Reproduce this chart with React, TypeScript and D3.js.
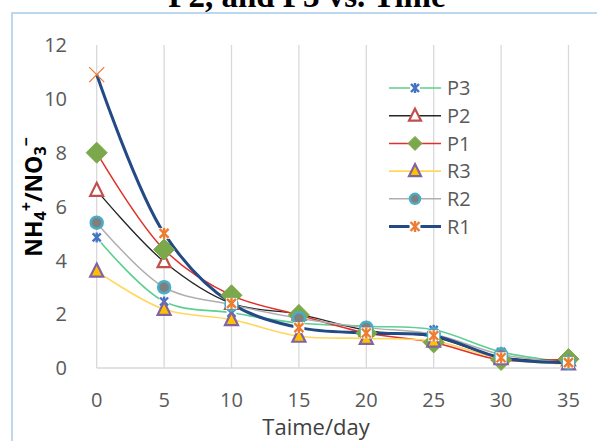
import React from "react";
import * as d3 from "d3";

const days = [0, 5, 10, 15, 20, 25, 30, 35];
const yTicks = [0, 2, 4, 6, 8, 10, 12];
const seriesNames = ["P3", "P2", "P1", "R3", "R2", "R1"];
const P3 = [4.85, 2.47, 2.05, 1.67, 1.55, 1.42, 0.6, 0.2];
const P2 = [6.6, 3.95, 2.4, 2.0, 1.4, 1.15, 0.4, 0.3];
const P1 = [8.0, 4.4, 2.7, 1.97, 1.3, 0.95, 0.3, 0.33];
const R3 = [3.6, 2.18, 1.8, 1.18, 1.1, 1.0, 0.35, 0.15];
const R2 = [5.4, 3.0, 2.35, 1.85, 1.5, 1.25, 0.5, 0.2];
const R1 = [10.9, 5.0, 2.4, 1.5, 1.3, 1.2, 0.38, 0.2];
const seriesValues = [P3, P2, P1, R3, R2, R1];

type Style = {
  line: string;
  width: number;
  marker: "star" | "tri" | "diamond" | "circle";
  fill: string;
  stroke: string;
  size: number;
  legendSize: number;
};

const styles: Style[] = [
  { line: "#5DCF91", width: 1.6, marker: "star", fill: "#fff", stroke: "#4472C4", size: 10, legendSize: 10 },
  { line: "#262626", width: 1.4, marker: "tri", fill: "#fff", stroke: "#C0504D", size: 13, legendSize: 12 },
  { line: "#E0302B", width: 1.5, marker: "diamond", fill: "#7BA84A", stroke: "#7BA84A", size: 21, legendSize: 14 },
  { line: "#FFD75E", width: 1.6, marker: "tri", fill: "#FFC000", stroke: "#8064A2", size: 13, legendSize: 12 },
  { line: "#AFAFAF", width: 1.5, marker: "circle", fill: "#7F7F7F", stroke: "#4BACC6", size: 12, legendSize: 10 },
  { line: "#234A85", width: 3, marker: "star", fill: "#fff", stroke: "#ED7D31", size: 11, legendSize: 11 },
];

function Marker({ s, cx, cy, first, size }: { s: Style; cx: number; cy: number; first?: boolean; size: number }) {
  const r = size / 2;
  if (s.marker === "star") {
    if (first && s.stroke === "#ED7D31") {
      const h = 7.5;
      return (
        <g stroke={s.stroke} strokeWidth={1.3} fill="none">
          <line x1={cx - h} y1={cy - h} x2={cx + h} y2={cy + h} />
          <line x1={cx - h} y1={cy + h} x2={cx + h} y2={cy - h} />
        </g>
      );
    }
    return (
      <g>
        <rect x={cx - r} y={cy - r} width={size} height={size} fill={s.fill} />
        <g stroke={s.stroke} strokeWidth={2.4} fill="none">
          <line x1={cx - r + 1} y1={cy - r + 1} x2={cx + r - 1} y2={cy + r - 1} />
          <line x1={cx - r + 1} y1={cy + r - 1} x2={cx + r - 1} y2={cy - r + 1} />
          <line x1={cx} y1={cy - r} x2={cx} y2={cy + r} />
        </g>
      </g>
    );
  }
  if (s.marker === "tri") {
    const h = size;
    const p = `${cx},${cy - h / 2 - 1} ${cx + h / 2},${cy + h / 2 - 1} ${cx - h / 2},${cy + h / 2 - 1}`;
    return <polygon points={p} fill={s.fill} stroke={s.stroke} strokeWidth={2.2} strokeLinejoin="miter" />;
  }
  if (s.marker === "diamond") {
    const p = `${cx},${cy - r} ${cx + r},${cy} ${cx},${cy + r} ${cx - r},${cy}`;
    return <polygon points={p} fill={s.fill} stroke={s.stroke} strokeWidth={1} />;
  }
  return <circle cx={cx} cy={cy} r={r} fill={s.fill} stroke={s.stroke} strokeWidth={2.5} />;
}

export default function App() {
  const W = 597;
  const H = 441;
  const x = d3.scaleLinear().domain([0, 35]).range([96.7, 568.5]);
  const y = d3.scaleLinear().domain([0, 12]).range([368, 45]);
  const line = d3
    .line<number>()
    .x((_, i) => x(days[i]))
    .y((d) => y(d))
    .curve(d3.curveCatmullRom.alpha(0.5));

  const font = "'Open Sans', 'Noto Sans', sans-serif";
  const legendX = 389;
  const legendY0 = 88;
  const legendStep = 27.7;

  return (
    <svg width={W} height={H} style={{ position: "absolute", left: 0, top: 0 }} fontFamily={font}>
      <rect x={0} y={0} width={W} height={H} fill="#fff" />
      <text
        x={307}
        y={7}
        textAnchor="middle"
        fontFamily="'Liberation Serif', 'DejaVu Serif', serif"
        fontWeight="bold"
        fontSize={33}
        fill="#000"
      >
        P2, and P3 vs. Time
      </text>
      <rect x={12} y={13} width={W} height={H} fill="none" stroke="#BDD7EE" strokeWidth={2} />

      {days.map((d) => (
        <line key={"g" + d} x1={x(d)} x2={x(d)} y1={y(12)} y2={y(0)} stroke="#D9D9D9" strokeWidth={1.3} />
      ))}
      <line x1={x(0)} x2={x(35)} y1={y(0)} y2={y(0)} stroke="#D9D9D9" strokeWidth={1.3} />

      {yTicks.map((t) => (
        <text key={"y" + t} x={67} y={y(t)} dy="0.36em" textAnchor="end" fontSize={20} fill="#595959">
          {t}
        </text>
      ))}
      {days.map((d) => (
        <text key={"x" + d} x={x(d)} y={407} textAnchor="middle" fontSize={20} fill="#595959">
          {d}
        </text>
      ))}
      <text x={316} y={435} textAnchor="middle" fontSize={22} fill="#404040">
        Taime/day
      </text>
      <text
        transform={`translate(42,197) rotate(-90)`}
        textAnchor="middle"
        fontSize={23}
        fontWeight="bold"
        fill="#000"
      >
        NH
        <tspan fontSize={16} dy={4}>4</tspan>
        <tspan fontSize={16} dy={-14}>+</tspan>
        <tspan dy={10}>/NO</tspan>
        <tspan fontSize={16} dy={4}>3</tspan>
        <tspan fontSize={16} dy={-14}>−</tspan>
      </text>

      {seriesValues.map((vals, si) => (
        <path key={"l" + si} d={line(vals) || ""} fill="none" stroke={styles[si].line} strokeWidth={styles[si].width} />
      ))}
      {seriesValues.map((vals, si) => (
        <g key={"m" + si}>
          {vals.map((v, i) => (
            <Marker key={i} s={styles[si]} size={styles[si].size} cx={x(days[i])} cy={y(v)} first={i === 0} />
          ))}
        </g>
      ))}

      {seriesNames.map((n, si) => {
        const ly = legendY0 + si * legendStep;
        return (
          <g key={"lg" + n}>
            <line x1={legendX} x2={legendX + 52} y1={ly} y2={ly} stroke={styles[si].line} strokeWidth={styles[si].width} />
            <Marker s={styles[si]} size={styles[si].legendSize} cx={legendX + 26} cy={ly} />
            <text x={legendX + 58} y={ly} dy="0.36em" fontSize={20} fill="#595959">
              {n}
            </text>
          </g>
        );
      })}
    </svg>
  );
}
